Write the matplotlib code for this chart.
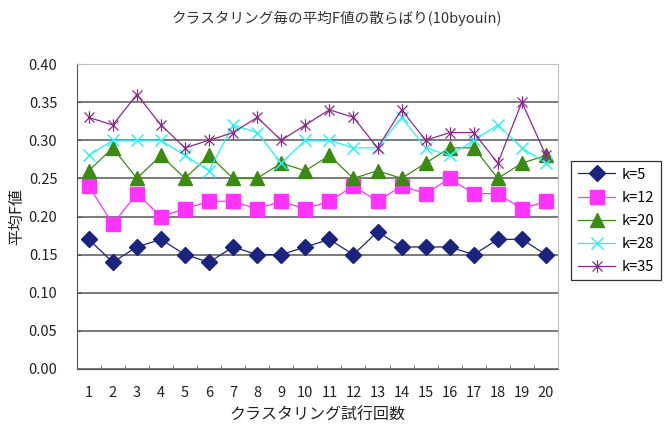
import matplotlib
matplotlib.use("Agg")
import matplotlib.pyplot as plt
from matplotlib.path import Path

plt.rcParams['font.family'] = ['Noto Sans CJK JP', 'DejaVu Sans']

## data
trials = list(range(1, 21))
k5 = [0.17, 0.14, 0.16, 0.17, 0.15, 0.14, 0.16, 0.15, 0.15, 0.16,
      0.17, 0.15, 0.18, 0.16, 0.16, 0.16, 0.15, 0.17, 0.17, 0.15]
k12 = [0.24, 0.19, 0.23, 0.20, 0.21, 0.22, 0.22, 0.21, 0.22, 0.21,
       0.22, 0.24, 0.22, 0.24, 0.23, 0.25, 0.23, 0.23, 0.21, 0.22]
k20 = [0.26, 0.29, 0.25, 0.28, 0.25, 0.28, 0.25, 0.25, 0.27, 0.26,
       0.28, 0.25, 0.26, 0.25, 0.27, 0.29, 0.29, 0.25, 0.27, 0.28]
k28 = [0.28, 0.30, 0.30, 0.30, 0.28, 0.26, 0.32, 0.31, 0.27, 0.30,
       0.30, 0.29, 0.29, 0.33, 0.29, 0.28, 0.30, 0.32, 0.29, 0.27]
k35 = [0.33, 0.32, 0.36, 0.32, 0.29, 0.30, 0.31, 0.33, 0.30, 0.32,
       0.34, 0.33, 0.29, 0.34, 0.30, 0.31, 0.31, 0.27, 0.35, 0.28]
labels = ['k=5', 'k=12', 'k=20', 'k=28', 'k=35']
yticks = [0.0, 0.05, 0.10, 0.15, 0.20, 0.25, 0.30, 0.35, 0.40]

## excel-like asterisk marker: X plus a vertical bar
star = Path([(-1, -1), (1, 1), (-1, 1), (1, -1), (0, -1.25), (0, 1.25)],
            [Path.MOVETO, Path.LINETO, Path.MOVETO, Path.LINETO,
             Path.MOVETO, Path.LINETO])

styles = [
    dict(color='#1a237e', marker='D', ms=8.5),
    dict(color='#ff33ff', marker='s', ms=10),
    dict(color='#3b8a12', marker='^', ms=10.5),
    dict(color='#22f4f4', marker='x', ms=8.5, mew=1.0),
    dict(color='#8a2a8a', marker=star, ms=9, mew=0.9),
]

fig = plt.figure(figsize=(6.64, 4.28), dpi=100)
ax = fig.add_axes([76.7 / 664, 1 - 369 / 428, (558 - 76.7) / 664, (369 - 64) / 428])

for ys, lab, st in zip([k5, k12, k20, k28, k35], labels, styles):
    ax.plot(trials, ys, lw=0.9, label=lab, **st)

ax.set_xlim(0.5, 20.5)
ax.set_ylim(0, 0.4)
ax.set_yticks(yticks)
ax.set_yticklabels(['%.2f' % v for v in yticks])
ax.set_xticks(trials)
ax.set_xticks([i + 0.5 for i in range(1, 20)], minor=True)
ax.tick_params(axis='x', which='major', length=0, pad=12, labelsize=10.5, colors='#222222')
ax.tick_params(axis='x', which='minor', length=3, direction='in', color='#555555')
ax.tick_params(axis='y', length=3, direction='in', pad=14, labelsize=10.5,
               colors='#222222', color='#555555')

ax.yaxis.grid(True, color='#7a7a7a', lw=1.4)
ax.set_axisbelow(True)
for side in ['top', 'right']:
    ax.spines[side].set_color('#c0c0c0')
for side in ['left', 'bottom']:
    ax.spines[side].set_color('#555555')

ax.set_xlabel('クラスタリング試行回数', fontsize=11.5, color='#222222', labelpad=5)
ax.set_ylabel('平均F値', fontsize=11.5, color='#222222', labelpad=2)
fig.text(337 / 664, 1 - 18 / 428, 'クラスタリング毎の平均F値の散らばり(10byouin)',
         ha='center', va='center', fontsize=10.5, color='#333333')

leg = ax.legend(loc='upper left', bbox_to_anchor=(571 / 664, 1 - 161 / 428),
                bbox_transform=fig.transFigure, borderaxespad=0, fontsize=10.5,
                handlelength=2.6, labelspacing=0.62, borderpad=0.45,
                handletextpad=0.4, fancybox=False, framealpha=1)
leg.get_frame().set_edgecolor('#333333')
leg.get_frame().set_linewidth(0.9)

fig.savefig('out.png', dpi=100)
